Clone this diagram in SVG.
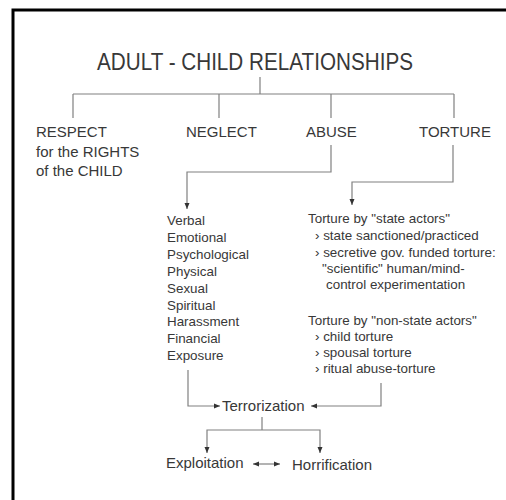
<svg xmlns="http://www.w3.org/2000/svg" width="506" height="500" viewBox="0 0 506 500">
<defs>
<style>
.t{font-family:"Liberation Sans",Arial,sans-serif;fill:#383838}
.h{font-size:24px}
.c{font-size:15px}
.s{font-size:13.4px}
.m{font-size:15px}
.ln{fill:none;stroke:#808080;stroke-width:1.2}
.ar{marker-end:url(#ah)}
</style>
<marker id="ah" markerUnits="userSpaceOnUse" markerWidth="6" markerHeight="6" refX="6" refY="3" orient="auto-start-reverse">
<path d="M0,0.5 L6,3 L0,5.5 z" fill="#333"/>
</marker>
</defs>
<rect x="0" y="0" width="506" height="500" fill="#fff"/>
<rect x="13" y="10" width="520" height="520" fill="none" stroke="#000" stroke-width="3"/>

<g id="title"><text class="t h" x="97" y="70" textLength="316" lengthAdjust="spacingAndGlyphs">ADULT - CHILD RELATIONSHIPS</text></g>
<g id="respect"><text class="t c" x="36" y="137">RESPECT</text><text class="t c" x="36" y="157">for the RIGHTS</text><text class="t c" x="36" y="176">of the CHILD</text></g>
<g id="neglect"><text class="t c" x="186" y="137">NEGLECT</text></g>
<g id="abuse"><text class="t c" x="306" y="137">ABUSE</text></g>
<g id="torture"><text class="t c" x="419" y="137">TORTURE</text></g>

<g id="abuse-list">
<text class="t s" x="167" y="225">Verbal</text>
<text class="t s" x="167" y="242">Emotional</text>
<text class="t s" x="167" y="259">Psychological</text>
<text class="t s" x="167" y="276">Physical</text>
<text class="t s" x="167" y="293">Sexual</text>
<text class="t s" x="167" y="310">Spiritual</text>
<text class="t s" x="167" y="326">Harassment</text>
<text class="t s" x="167" y="343">Financial</text>
<text class="t s" x="167" y="360">Exposure</text>
</g>

<g id="torture-list">
<text class="t s" x="308" y="223">Torture by "state actors"</text>
<text class="t s" x="315" y="240">› state sanctioned/practiced</text>
<text class="t s" x="315" y="257">› secretive gov. funded torture:</text>
<text class="t s" x="322" y="273">"scientific" human/mind-</text>
<text class="t s" x="326" y="289">control experimentation</text>
<text class="t s" x="308" y="325">Torture by "non-state actors"</text>
<text class="t s" x="315" y="341">› child torture</text>
<text class="t s" x="315" y="357">› spousal torture</text>
<text class="t s" x="315" y="373">› ritual abuse-torture</text>
</g>

<g id="terrorization"><text class="t m" x="222" y="411">Terrorization</text></g>
<g id="exploitation"><text class="t m" x="166" y="468">Exploitation</text></g>
<g id="horrification"><text class="t m" x="292" y="470">Horrification</text></g>

<g id="connectors">
<path class="ln" d="M260,77 V94 M73,94 H454 M73,94 V118 M219,94 V118 M331,94 V118 M454,94 V118"/>
<path class="ln ar" d="M331,145 V172 H187 V209"/>
<path class="ln ar" d="M453,145 V182 H352 V205"/>
<path class="ln ar" d="M188,370 V406 H220"/>
<path class="ln ar" d="M381,383 V406 H311"/>
<path class="ln" d="M262,417 V430"/>
<path class="ln ar" d="M262,430 H207 V453"/>
<path class="ln ar" d="M262,430 H320 V453"/>
<path class="ln ar" d="M253,464 H280" marker-start="url(#ah)"/>
</g>
</svg>
